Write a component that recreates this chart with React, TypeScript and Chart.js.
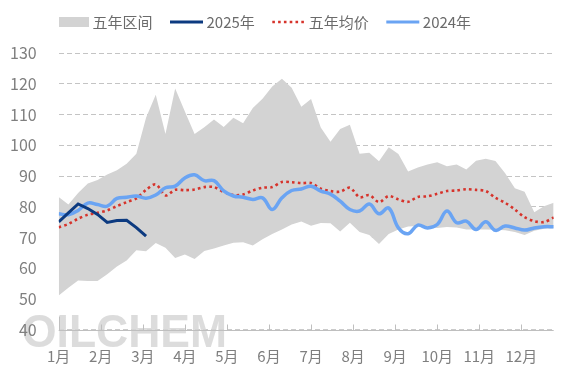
import React, { useEffect, useRef } from 'react';
import { Chart, registerables } from 'chart.js';

Chart.register(...registerables);

// ---- data ----
const WEEKS = [
  1, 2, 3, 4, 5, 6, 7, 8, 9, 10, 11, 12, 13, 14, 15, 16, 17, 18, 19, 20, 21, 22, 23, 24, 25, 26,
  27, 28, 29, 30, 31, 32, 33, 34, 35, 36, 37, 38, 39, 40, 41, 42, 43, 44, 45, 46, 47, 48, 49, 50, 51, 52,
];
const MONTH_LABELS = ['1月', '2月', '3月', '4月', '5月', '6月', '7月', '8月', '9月', '10月', '11月', '12月'];
const Y_MIN = 40;
const Y_MAX = 130;
const Y_STEP = 10;

const BAND_UPPER = [
  83.2, 80.7, 84.5, 87.6, 88.7, 90.5, 91.9, 94.0, 97.3, 109.0, 116.5, 103.7, 118.5, 111.0, 103.7, 105.9,
  108.4, 106.0, 109.0, 107.2, 112.2, 115.2, 119.2, 121.7, 118.8, 112.6, 115.1, 105.8, 101.2, 105.3, 106.7,
  97.3, 97.6, 94.8, 99.4, 97.2, 91.5, 92.8, 93.8, 94.5, 93.2, 93.8, 92.1, 95.0, 95.6, 94.9, 90.9, 86.0,
  84.9, 78.2, 80.2, 81.3,
];
const BAND_LOWER = [
  51.1, 53.6, 56.0, 55.8, 55.8, 58.0, 60.5, 62.5, 65.8, 65.5, 68.2, 66.6, 63.3, 64.4, 63.0, 65.6, 66.4,
  67.4, 68.3, 68.4, 67.4, 69.4, 71.1, 72.6, 74.2, 75.2, 73.8, 74.7, 74.6, 71.9, 74.8, 71.8, 70.8, 67.9,
  71.1, 72.6, 73.6, 73.7, 73.4, 73.1, 73.4, 73.2, 72.6, 72.6, 72.6, 72.5, 72.3, 71.8, 70.8, 72.2, 72.8,
  73.0,
];
const AVG_5Y = [
  73.3, 74.4, 76.1, 77.4, 78.0, 78.8, 80.2, 81.5, 82.7, 85.5, 87.3, 83.7, 85.5, 85.4, 85.6, 86.4, 86.4,
  84.8, 83.8, 84.0, 85.3, 86.2, 86.4, 88.1, 88.0, 87.7, 87.7, 85.9, 85.1, 84.9, 86.2, 83.1, 83.8, 81.5,
  83.5, 82.4, 81.6, 83.2, 83.4, 84.2, 85.1, 85.3, 85.7, 85.5, 85.1, 82.9, 81.3, 79.1, 76.6, 75.3, 75.0,
  76.5,
];
const Y2024 = [
  77.7, 77.4, 78.8, 81.2, 80.7, 80.2, 82.7, 83.1, 83.5, 82.8, 83.8, 86.2, 86.7, 89.4, 90.4, 88.5, 88.5,
  85.2, 83.5, 83.1, 82.4, 82.9, 79.1, 82.9, 85.3, 85.8, 86.7, 85.1, 84.1, 81.8, 79.1, 78.6, 80.9, 77.7,
  79.6, 73.1, 71.2, 74.0, 73.1, 74.2, 78.6, 74.8, 75.3, 72.6, 75.1, 72.3, 73.7, 73.1, 72.4, 73.1, 73.5,
  73.5,
];
const Y2025 = [75.1, 78.0, 80.9, 79.4, 77.5, 74.9, 75.5, 75.6, 73.2, 70.4];

// ---- styles ----
const FONT_FAMILY = '"Noto Sans CJK SC", "Noto Sans", sans-serif';
const BAND_COLOR = '#d3d3d3';
const NAVY = '#0c3a80';
const BLUE = '#6aa4f3';
const RED = '#d6332b';
const GRID = '#c4c4c4';
const AXIS = '#bfbfbf';
const TICK_TEXT = '#7f7f7f';
const LEGEND_TEXT = '#6b6b6b';

const toPoints = (arr: number[]) => arr.map((v, i) => ({ x: WEEKS[i], y: v }));

function drawWatermark(ctx: any) {
  ctx.save();
  ctx.font = 'bold 46px "Liberation Sans", sans-serif';
  const text = 'OILCHEM';
  const w = ctx.measureText(text).width;
  const g = ctx.createLinearGradient(0, 312, 0, 348);
  g.addColorStop(0, 'rgb(220,220,220)');
  g.addColorStop(1, 'rgb(250,250,250)');
  ctx.fillStyle = g;
  ctx.textBaseline = 'alphabetic';
  ctx.translate(22, 347);
  ctx.scale(205 / w, 1);
  ctx.fillText(text, 0, 0);
  ctx.restore();
}

const decorPlugin = {
  id: 'decor',
  beforeDraw(chart: any) {
    drawWatermark(chart.ctx);
  },
  afterDatasetsDraw(chart: any) {
    const { ctx, chartArea } = chart;
    const xScale = chart.scales.x;
    // watermark again inside the plot area (over the white fill)
    ctx.save();
    ctx.beginPath();
    ctx.rect(chartArea.left, chartArea.top, chartArea.right - chartArea.left, chartArea.bottom - chartArea.top);
    ctx.clip();
    drawWatermark(ctx);
    ctx.restore();

    // x axis line + inner ticks
    ctx.save();
    ctx.strokeStyle = AXIS;
    ctx.lineWidth = 1;
    const yb = Math.round(chartArea.bottom) + 0.5;
    ctx.beginPath();
    ctx.moveTo(chartArea.left, yb);
    ctx.lineTo(chartArea.right, yb);
    ctx.stroke();
    xScale.ticks.forEach((t: any, i: number) => {
      const px = Math.round(xScale.getPixelForValue(t.value)) + 0.5;
      ctx.beginPath();
      ctx.moveTo(px, yb - (i === 0 ? 14 : 6));
      ctx.lineTo(px, yb);
      ctx.stroke();
    });
    ctx.restore();
  },
};

const legendPlugin = {
  id: 'customLegend',
  afterDraw(chart: any) {
    const ctx = chart.ctx;
    const ds = chart.data.datasets;
    const items = [ds[3], ds[0], ds[2], ds[1]];
    ctx.save();
    ctx.font = '15px ' + FONT_FAMILY;
    ctx.textBaseline = 'middle';
    let x = 59;
    const y = 22;
    items.forEach((d: any, idx: number) => {
      const symW = idx === 0 ? 30 : 33;
      if (d.fill) {
        ctx.fillStyle = d.backgroundColor;
        ctx.fillRect(x, y - 5, symW, 10);
      } else {
        ctx.beginPath();
        ctx.strokeStyle = d.borderColor;
        ctx.lineWidth = Math.min(d.borderWidth, 3);
        ctx.setLineDash(d.borderDash || []);
        ctx.moveTo(x, y);
        ctx.lineTo(x + symW, y);
        ctx.stroke();
        ctx.setLineDash([]);
      }
      x += symW + 3.5;
      ctx.fillStyle = LEGEND_TEXT;
      ctx.fillText(d.label, x, y);
      x += ctx.measureText(d.label).width + 17.5;
    });
    ctx.restore();
  },
};

export default function App() {
  const ref = useRef<HTMLCanvasElement | null>(null);

  useEffect(() => {
    if (!ref.current) return;
    Chart.defaults.font.family = FONT_FAMILY;
    const chart = new Chart(ref.current, {
      type: 'line',
      data: {
        datasets: [
          {
            label: '2025年',
            data: toPoints(Y2025),
            borderColor: NAVY,
            backgroundColor: NAVY,
            borderWidth: 3,
            tension: 0,
            pointRadius: 0,
            fill: false,
          },
          {
            label: '2024年',
            data: toPoints(Y2024),
            borderColor: BLUE,
            backgroundColor: BLUE,
            borderWidth: 3.5,
            tension: 0.4,
            pointRadius: 0,
            fill: false,
          },
          {
            label: '五年均价',
            data: toPoints(AVG_5Y),
            borderColor: RED,
            backgroundColor: RED,
            borderWidth: 2.6,
            borderDash: [2.6, 3.2],
            tension: 0.3,
            pointRadius: 0,
            fill: false,
          },
          {
            label: '五年区间',
            data: toPoints(BAND_UPPER),
            borderWidth: 0,
            borderColor: 'rgba(0,0,0,0)',
            backgroundColor: BAND_COLOR,
            tension: 0,
            pointRadius: 0,
            fill: '+1',
          },
          {
            label: '',
            data: toPoints(BAND_LOWER),
            borderWidth: 0,
            borderColor: 'rgba(0,0,0,0)',
            backgroundColor: '#ffffff',
            tension: 0,
            pointRadius: 0,
            fill: 'origin',
          },
        ],
      },
      options: {
        animation: false,
        responsive: true,
        maintainAspectRatio: false,
        layout: { padding: { top: 53.3, right: 14.3, bottom: 0, left: 0 } },
        plugins: {
          legend: { display: false },
          tooltip: { enabled: false },
        },
        scales: {
          x: {
            type: 'linear',
            min: WEEKS[0],
            max: WEEKS[WEEKS.length - 1],
            grid: { display: false, drawTicks: false },
            border: { display: false },
            afterBuildTicks: (scale: any) => {
              scale.ticks = MONTH_LABELS.map((_, k) => ({ value: WEEKS[0] + (k * WEEKS.length) / 12 }));
            },
            afterFit: (scale: any) => {
              scale.height = 48.5;
            },
            ticks: {
              autoSkip: false,
              maxRotation: 0,
              padding: 17.5,
              color: TICK_TEXT,
              font: { size: 15 },
              callback: (_v: any, idx: number) => MONTH_LABELS[idx],
            },
          },
          y: {
            min: Y_MIN,
            max: Y_MAX,
            grid: { color: GRID, lineWidth: 1, drawTicks: false },
            border: { display: false, dash: [5, 3] },
            afterFit: (scale: any) => {
              scale.width = 58.7;
            },
            ticks: {
              stepSize: Y_STEP,
              padding: 22,
              color: TICK_TEXT,
              font: { size: 16 },
            },
          },
        },
      },
      plugins: [decorPlugin, legendPlugin],
    } as any);
    return () => chart.destroy();
  }, []);

  return (
    <div style={{ position: 'absolute', left: 0, top: 0, width: 568, height: 378, background: '#fff' }}>
      <canvas ref={ref} />
    </div>
  );
}
